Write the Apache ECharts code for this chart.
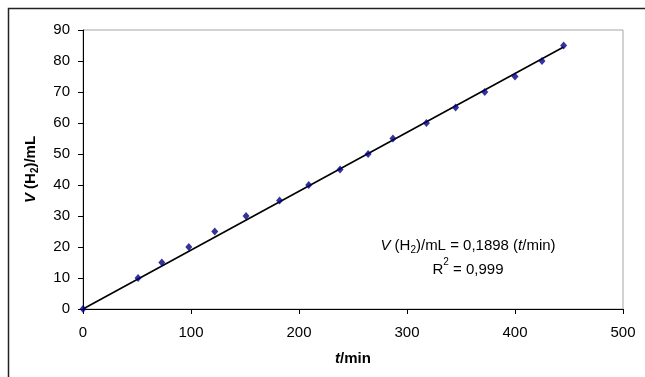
<!DOCTYPE html>
<html><head><meta charset="utf-8">
<script src="https://cdn.jsdelivr.net/npm/echarts@6/dist/echarts.min.js"></script>
<style>html,body{margin:0;padding:0;background:#fff}#c{width:645px;height:377px}</style>
</head><body><div id="c"></div>
<script>
const timeMin = [0, 51, 73, 98, 122, 151, 182, 209, 238, 264, 287, 318, 345, 372, 400, 425, 445];
const volumeML = [0, 10, 15, 20, 25, 30, 35, 40, 45, 50, 55, 60, 65, 70, 75, 80, 85];
const trendX = [0, 445];
const trendY = [0, 84.5];
const xTicks = [0, 100, 200, 300, 400, 500];
const yTicks = [0, 10, 20, 30, 40, 50, 60, 70, 80, 90];

const FONT = '"Liberation Sans", Arial, sans-serif';
const FS = 15;
const chart = echarts.init(document.getElementById('c'), null, {renderer: 'canvas'});
const pts = timeMin.map((t, i) => [t, volumeML[i]]);
const trend = trendX.map((t, i) => [t, trendY[i]]);

chart.setOption({
  animation: false,
  backgroundColor: '#fff',
  grid: {left: 83, right: 22, top: 30, bottom: 68, show: true, borderColor: '#a6a6a6', borderWidth: 1, backgroundColor: 'transparent'},
  xAxis: {
    type: 'value', min: xTicks[0], max: xTicks[xTicks.length - 1], interval: 100,
    axisLine: {show: true, onZero: false, lineStyle: {color: '#000', width: 1}},
    axisTick: {show: true, length: 5, lineStyle: {color: '#000'}},
    splitLine: {show: false},
    axisLabel: {color: '#000', fontFamily: FONT, fontSize: FS, margin: 16},
    name: '{i|t}{b|/min}', nameLocation: 'middle', nameGap: 42,
    nameTextStyle: {rich: {
      i: {fontFamily: FONT, fontSize: FS, fontWeight: 'bold', fontStyle: 'italic', color: '#000'},
      b: {fontFamily: FONT, fontSize: FS, fontWeight: 'bold', color: '#000'}
    }}
  },
  yAxis: {
    type: 'value', min: yTicks[0], max: yTicks[yTicks.length - 1], interval: 10,
    axisLine: {show: true, onZero: false, lineStyle: {color: '#000', width: 1}},
    axisTick: {show: true, length: 5, lineStyle: {color: '#000'}},
    splitLine: {show: false},
    axisLabel: {color: '#000', fontFamily: FONT, fontSize: FS, margin: 13},
    name: '{i|V}{b| (H}{s|2}{b|)/mL}', nameLocation: 'middle', nameGap: 43, nameRotate: 90,
    nameTextStyle: {rich: {
      i: {fontFamily: FONT, fontSize: FS, fontWeight: 'bold', fontStyle: 'italic', color: '#000', lineHeight: 18, verticalAlign: 'middle'},
      b: {fontFamily: FONT, fontSize: FS, fontWeight: 'bold', color: '#000', lineHeight: 18, verticalAlign: 'middle'},
      s: {fontFamily: FONT, fontSize: 10, fontWeight: 'bold', color: '#000', lineHeight: 18, verticalAlign: 'bottom'}
    }}
  },
  series: [
    {type: 'line', data: trend, symbol: 'none', lineStyle: {color: '#000', width: 1.6}, z: 2, silent: true},
    {type: 'scatter', data: pts, symbol: 'diamond', symbolSize: [7, 8], itemStyle: {color: '#000080'}, z: 3}
  ],
  graphic: [
    {type: 'rect', shape: {x: 8.5, y: 8.5, width: 700, height: 500}, style: {fill: 'none', stroke: '#222', lineWidth: 1.5}, z: 100, silent: true},
    {type: 'text', x: 468, y: 246, z: 100, style: {
      text: '{i|V}{r| (H}{s|2}{r|)/mL = 0,1898 (}{i|t}{r|/min)}',
      align: 'center', verticalAlign: 'middle',
      rich: {
        i: {fontFamily: FONT, fontSize: FS, fontStyle: 'italic', fill: '#000', lineHeight: 18, verticalAlign: 'middle'},
        r: {fontFamily: FONT, fontSize: FS, fill: '#000', lineHeight: 18, verticalAlign: 'middle'},
        s: {fontFamily: FONT, fontSize: 10, fill: '#000', lineHeight: 18, verticalAlign: 'bottom'}
      }
    }},
    {type: 'text', x: 468, y: 267, z: 100, style: {
      text: '{r|R}{p|2}{r| = 0,999}',
      align: 'center', verticalAlign: 'middle',
      rich: {
        r: {fontFamily: FONT, fontSize: FS, fill: '#000', lineHeight: 20, verticalAlign: 'bottom'},
        p: {fontFamily: FONT, fontSize: 10, fill: '#000', lineHeight: 20, verticalAlign: 'top'}
      }
    }}
  ]
});
</script></body></html>
